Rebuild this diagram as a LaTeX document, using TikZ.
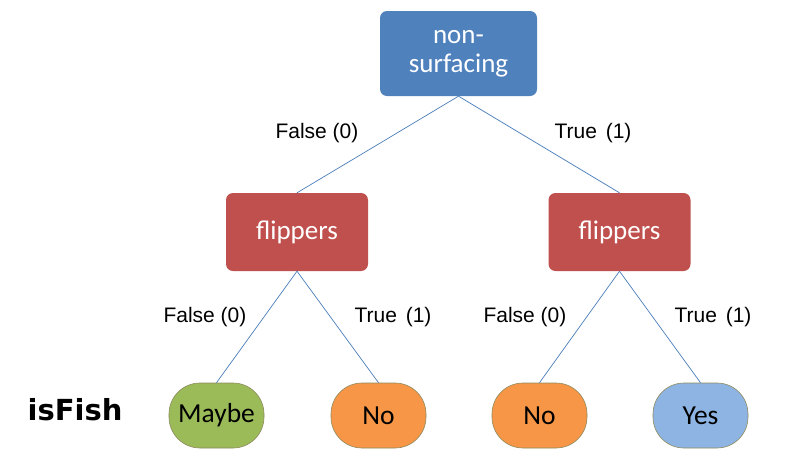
\documentclass[tikz,border=0pt]{standalone}
\usepackage{fontspec}
\setmainfont{Carlito}
\newfontfamily\arialf{Liberation Sans}
\newfontfamily\dejavub{DejaVu Sans}
\definecolor{topblue}{HTML}{4F81BD}
\definecolor{redbox}{HTML}{C0504D}
\definecolor{greenleaf}{HTML}{9BBB59}
\definecolor{orangeleaf}{HTML}{F79646}
\definecolor{blueleaf}{HTML}{8DB4E2}
\definecolor{leafbord}{HTML}{8E8A5E}
\definecolor{linkc}{HTML}{4A7EBB}
\begin{document}
\begin{tikzpicture}[x=1pt,y=-1pt,
  box/.style={rectangle,rounded corners=7pt,minimum width=157pt,minimum height=85pt,inner sep=0pt,text=white,font=\fontsize{27}{29}\selectfont,align=center},
  redb/.style={box,fill=redbox,minimum width=142pt,minimum height=78pt},
  leaf/.style={rectangle,rounded corners=31pt,minimum width=95pt,minimum height=65pt,inner sep=0pt,font=\fontsize{27.5}{28}\selectfont,draw=leafbord,line width=0.6pt},
  link/.style={draw=linkc,line width=0.7pt},
  lab/.style={font=\arialf\fontsize{21}{24}\selectfont,inner sep=0pt}]
\useasboundingbox (0,0) rectangle (788,472);
\fill[white] (0,0) rectangle (788,472);
\node[box,fill=topblue] (root) at (458.5,53.5) {non-\\surfacing};
\node[redb] (fl) at (297,232) {flippers};
\node[redb] (fr) at (619.5,232) {flippers};
\node[leaf,fill=greenleaf] (l1) at (216.5,415.5) {Maybe};
\node[leaf,fill=orangeleaf] (l2) at (378.5,415.5) {No};
\node[leaf,fill=orangeleaf] (l3) at (539.5,415.5) {No};
\node[leaf,fill=blueleaf] (l4) at (700.5,415.5) {Yes};
\node[font=\dejavub\bfseries\fontsize{29}{32}\selectfont,inner sep=0pt] (isf) at (75,410) {isFish};
\draw[link] (root.south) -- (fl.north);
\draw[link] (root.south) -- (fr.north);
\draw[link] (fl.south) -- (l1.north);
\draw[link] (fl.south) -- (l2.north);
\draw[link] (fr.south) -- (l3.north);
\draw[link] (fr.south) -- (l4.north);
\node[lab] (e1) at (317,133) {False (0)};
\node[lab] (e2) at (593,133) {True\hspace{3pt} (1)};
\node[lab] (e3) at (205,317) {False (0)};
\node[lab] (e4) at (393,317) {True\hspace{3pt} (1)};
\node[lab] (e5) at (525,317) {False (0)};
\node[lab] (e6) at (713,317) {True\hspace{3pt} (1)};
\end{tikzpicture}
\end{document}
